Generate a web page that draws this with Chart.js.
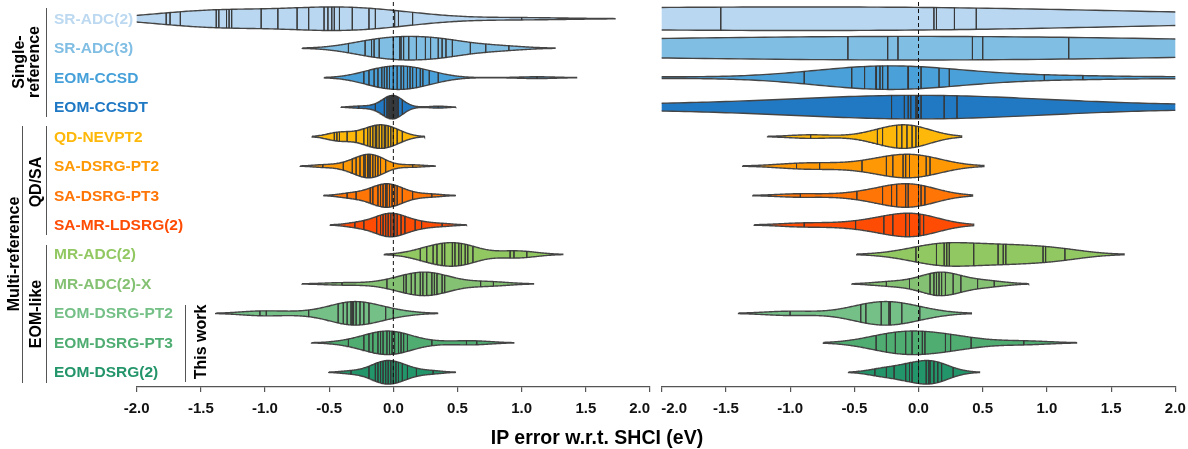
<!DOCTYPE html>
<html>
<head>
<meta charset="utf-8">
<script src="https://cdn.jsdelivr.net/npm/chart.js@4.4.1/dist/chart.umd.min.js"></script>
<style>
  body { margin: 0; width: 1188px; height: 449px; overflow: hidden; background: #fff; position: relative;
         font-family: "Liberation Sans", Arial, sans-serif; }
  .box { position: absolute; top: 0; height: 449px; }
  #leftBox { left: 0; width: 700px; }
  #rightBox { left: 600px; width: 620px; }
  .grp { position: absolute; font-weight: bold; font-size: 16px; color: #000; white-space: nowrap;
         text-align: center; line-height: 15px; transform: translate(-50%, -50%) rotate(-90deg); }
  .bar { position: absolute; width: 0; border-left: 1.5px solid #555; }
  .rowlab { position: absolute; left: 54px; transform: translateY(-50%); font-weight: bold;
            font-size: 15.5px; white-space: nowrap; line-height: 18px; }
  #xtitle { position: absolute; left: 597px; top: 437px; transform: translate(-50%, -50%);
            font-weight: bold; font-size: 19.5px; white-space: nowrap; }
</style>
</head>
<body>
<div class="box" id="leftBox"><canvas id="leftChart"></canvas></div>
<div class="box" id="rightBox"><canvas id="rightChart"></canvas></div>
<div id="labels"></div>

<div class="bar" style="left:46px;top:8px;height:109px"></div>
<div class="grp" style="left:26px;top:62px">Single-<br>reference</div>
<div class="bar" style="left:22px;top:126px;height:257px"></div>
<div class="grp" style="left:13px;top:254px">Multi-reference</div>
<div class="bar" style="left:46px;top:126px;height:109px"></div>
<div class="grp" style="left:35px;top:182px">QD/SA</div>
<div class="bar" style="left:46px;top:245px;height:138px"></div>
<div class="grp" style="left:35px;top:314px">EOM-like</div>
<div class="bar" style="left:185px;top:305px;height:77px"></div>
<div class="grp" style="left:200px;top:342px">This work</div>
<div id="xtitle">IP error w.r.t. SHCI (eV)</div>

<script>
var methods = ['SR-ADC(2)', 'SR-ADC(3)', 'EOM-CCSD', 'EOM-CCSDT', 'QD-NEVPT2', 'SA-DSRG-PT2', 'SA-DSRG-PT3',
               'SA-MR-LDSRG(2)', 'MR-ADC(2)', 'MR-ADC(2)-X', 'EOM-DSRG-PT2', 'EOM-DSRG-PT3', 'EOM-DSRG(2)'];

var tickValues = [-2, -1.5, -1, -0.5, 0, 0.5, 1, 1.5, 2];
var tickLabels = ['-2.0', '-1.5', '-1.0', '-0.5', '0.0', '0.5', '1.0', '1.5', '2.0'];

// IP errors (eV), left panel, one list per method
var leftErrors = [
  [-1.77, -1.74, -1.66, -1.38, -1.36, -1.30, -1.28, -1.26, -1.03, -0.90, -0.75, -0.66, -0.54, -0.51, -0.48, -0.46, -0.42, -0.32, -0.19, -0.14, 0.01, 0.04, 0.15, 1.00], // SR-ADC(2)
  [-0.35, -0.22, -0.17, -0.15, -0.11, 0.00, 0.05, 0.06, 0.08, 0.12, 0.18, 0.25, 0.29, 0.35, 0.38, 0.41, 0.46, 0.60, 0.72, 0.90], // SR-ADC(3)
  [-0.23, -0.19, -0.15, -0.12, -0.09, -0.07, -0.05, -0.03, 0.00, 0.03, 0.06, 0.08, 0.11, 0.13, 0.15, 0.18, 0.21, 0.23, 0.28, 0.35, 1.12], // EOM-CCSD
  [-0.27, -0.14, -0.07, -0.05, -0.04, -0.03, -0.02, -0.01, -0.01, 0.00, 0.00, 0.01, 0.02, 0.03, 0.04, 0.07, 0.35], // EOM-CCSDT
  [-0.46, -0.44, -0.42, -0.36, -0.29, -0.23, -0.20, -0.18, -0.16, -0.14, -0.13, -0.11, -0.09, -0.07, -0.06, -0.04, -0.02, 0.00, 0.03, 0.07], // QD-NEVPT2
  [-0.55, -0.39, -0.32, -0.29, -0.26, -0.23, -0.22, -0.20, -0.19, -0.18, -0.16, -0.14, -0.12, -0.10, -0.06, 0.15], // SA-DSRG-PT2
  [-0.36, -0.29, -0.18, -0.16, -0.12, -0.10, -0.08, -0.06, -0.05, -0.03, -0.01, 0.01, 0.03, 0.07, 0.15, 0.30], // SA-DSRG-PT3
  [-0.30, -0.23, -0.13, -0.10, -0.08, -0.06, -0.04, -0.02, 0.00, 0.01, 0.03, 0.06, 0.09, 0.17, 0.22, 0.38], // SA-MR-LDSRG(2)
  [0.21, 0.26, 0.31, 0.34, 0.38, 0.40, 0.46, 0.48, 0.51, 0.53, 0.56, 0.58, 0.62, 0.91, 0.94, 1.04], // MR-ADC(2)
  [-0.40, -0.05, 0.08, 0.10, 0.14, 0.17, 0.21, 0.23, 0.26, 0.30, 0.32, 0.34, 0.38, 0.40, 0.68, 0.78], // MR-ADC(2)-X
  [-1.04, -0.99, -0.66, -0.43, -0.39, -0.36, -0.33, -0.32, -0.31, -0.29, -0.26, -0.23, -0.19, -0.06, 0.00], // EOM-DSRG-PT2
  [-0.35, -0.23, -0.19, -0.16, -0.12, -0.10, -0.08, -0.05, -0.03, -0.01, 0.01, 0.04, 0.06, 0.08, 0.11, 0.30, 0.57, 0.65], // EOM-DSRG-PT3
  [-0.33, -0.19, -0.14, -0.12, -0.10, -0.08, -0.06, -0.04, -0.02, 0.00, 0.02, 0.04, 0.07, 0.11, 0.18, 0.31] // EOM-DSRG(2)
];

// IP errors (eV), right panel
var rightErrors = [
  [-6.5, -4.8, -3.6, -2.9, -2.4, -1.54, 0.12, 0.14, 0.28, 0.45, 3.4], // SR-ADC(2)
  [-8.0, -5.0, -3.5, -2.6, -0.55, -0.24, -0.16, 0.42, 0.50, 1.17, 2.8, 5.5], // SR-ADC(3)
  [-2.3, -0.89, -0.52, -0.42, -0.33, -0.33, -0.30, -0.28, -0.28, -0.24, -0.24, -0.08, -0.08, 0.02, 0.16, 0.24, 0.98, 1.28, 2.5], // EOM-CCSD
  [-3.0, -2.3, -0.21, -0.11, -0.08, -0.06, -0.02, -0.01, 0.02, 0.20, 0.30, 2.7, 3.8], // EOM-CCSDT
  [-0.84, -0.32, -0.28, -0.17, -0.13, -0.09, -0.05, -0.02, 0.00], // QD-NEVPT2
  [-0.95, -0.77, -0.44, -0.25, -0.20, -0.12, -0.10, -0.07, 0.00, 0.06, 0.09], // SA-DSRG-PT2
  [-0.92, -0.48, -0.28, -0.21, -0.17, -0.10, -0.08, 0.00, 0.02, 0.05], // SA-DSRG-PT3
  [-0.89, -0.49, -0.27, -0.20, -0.10, -0.07, 0.00, 0.01, 0.04], // SA-MR-LDSRG(2)
  [-0.02, 0.14, 0.20, 0.22, 0.24, 0.43, 0.62, 0.66, 0.68, 0.97, 0.99, 1.14], // MR-ADC(2)
  [-0.25, -0.07, 0.09, 0.12, 0.14, 0.16, 0.18, 0.21, 0.27, 0.33, 0.46, 0.59], // MR-ADC(2)-X
  [-1.00, -0.45, -0.41, -0.29, -0.23, -0.22, -0.13, 0.01], // EOM-DSRG-PT2
  [-0.33, -0.25, -0.18, -0.10, -0.05, 0.03, 0.05, 0.21, 0.25, 0.41, 0.82], // EOM-DSRG-PT3
  [-0.34, -0.25, -0.19, -0.10, -0.07, -0.05, 0.00, 0.06, 0.08, 0.09, 0.12, 0.15, 0.18, 0.27] // EOM-DSRG(2)
];

var fills = ['#b9d7f0', '#80bee4', '#4aa0d9', '#2179c4', '#feb80a', '#ff9805', '#ff7506', '#ff4c05',
             '#92c862', '#84c172', '#74c087', '#4fad72', '#23956a'];
var labelColors = ['#bcd9f1', '#80bee4', '#45a0da', '#1f78c4', '#feb80a', '#ff9805', '#ff7506', '#ff4c05',
                   '#92c862', '#84c172', '#74c087', '#4fad72', '#23956a'];

var font = '"Liberation Sans", Arial, sans-serif';
var halfWidth = 0.4;

// gaussian kde, scott bandwidth, cut = 2 (like seaborn's violinplot)
function kde(vals) {
  var n = vals.length, mean = 0, ss = 0;
  for (var i = 0; i < n; ++i) mean += vals[i];
  mean /= n;
  for (var i = 0; i < n; ++i) ss += (vals[i] - mean) * (vals[i] - mean);
  var bw = Math.pow(n, -0.2) * Math.sqrt(ss / (n - 1));
  var lo = Math.min.apply(null, vals) - 2 * bw;
  var hi = Math.max.apply(null, vals) + 2 * bw;
  var f = function (x) {
    var s = 0;
    for (var j = 0; j < n; ++j) { var z = (x - vals[j]) / bw; s += Math.exp(-0.5 * z * z); }
    return s;
  };
  var xs = [], ds = [], peak = 0;
  for (var i = 0; i < 240; ++i) {
    var x = lo + (hi - lo) * i / 239;
    var d = f(x);
    xs.push(x); ds.push(d);
    if (d > peak) peak = d;
  }
  return {xs: xs, ds: ds, peak: peak, f: f};
}

function violinSets(errors) {
  var sets = [];
  errors.forEach(function (vals, row) {
    var k = kde(vals);
    var outline = [];
    for (var i = 0; i < k.xs.length; ++i) outline.push({x: k.xs[i], y: row - halfWidth * k.ds[i] / k.peak});
    for (var i = k.xs.length - 1; i >= 0; --i) outline.push({x: k.xs[i], y: row + halfWidth * k.ds[i] / k.peak});
    outline.push({x: outline[0].x, y: outline[0].y});
    sets.push({
      data: outline, showLine: true, fill: 'shape', backgroundColor: fills[row],
      borderColor: '#454545', borderWidth: 1.4, pointRadius: 0, clip: 0, order: 2
    });
    var sticks = [];
    vals.forEach(function (v) {
      var h = halfWidth * k.f(v) / k.peak;
      sticks.push({x: v, y: row - h}, {x: v, y: row + h}, {x: v, y: null});
    });
    sets.push({
      data: sticks, showLine: true, fill: false, borderColor: 'rgba(55,55,55,0.85)',
      borderWidth: 1, pointRadius: 0, clip: 0, order: 1
    });
  });
  return sets;
}

var zeroLine = {
  id: 'zeroLine',
  afterDatasetsDraw: function (chart) {
    var ctx = chart.ctx, a = chart.chartArea;
    var x = chart.scales.x.getPixelForValue(0);
    ctx.save();
    ctx.setLineDash([4, 3]);
    ctx.strokeStyle = '#111';
    ctx.lineWidth = 1;
    ctx.beginPath();
    ctx.moveTo(x, a.top - 2);
    ctx.lineTo(x, a.bottom - 3);
    ctx.stroke();
    ctx.restore();
  }
};

function makeChart(id, errors, isLeft) {
  var nb = '\u00a0';
  return new Chart(document.getElementById(id), {
    type: 'scatter',
    data: {datasets: violinSets(errors)},
    options: {
      responsive: true,
      maintainAspectRatio: false,
      animation: false,
      events: [],
      layout: {padding: isLeft ? {left: 136.7, right: 50, top: 4, bottom: 0} : {left: 61.7, right: 44.7, top: 4, bottom: 0}},
      plugins: {legend: {display: false}, tooltip: {enabled: false}},
      scales: {
        x: {
          type: 'linear', min: -2, max: 2,
          afterBuildTicks: function (s) { s.ticks = tickValues.map(function (v) { return {value: v}; }); },
          ticks: {
            color: '#111', padding: 8, maxRotation: 0, autoSkip: false,
            font: {family: font, size: 15, weight: 'bold'},
            callback: function (v, i) {
              // keep the inner edge labels of the two panels apart
              if (isLeft && i === tickLabels.length - 1) return tickLabels[i] + nb + nb + nb + nb + nb;
              if (!isLeft && i === 0) return nb + nb + nb + nb + nb + nb + tickLabels[i];
              return tickLabels[i];
            }
          },
          grid: {drawOnChartArea: false, drawTicks: true, tickLength: 5, color: '#555', lineWidth: 1.2},
          border: {display: true, color: '#555', width: 1.2},
          afterFit: function (s) { s.height = 62; }
        },
        y: {type: 'linear', min: -0.5, max: 12.5, reverse: true, display: false}
      }
    },
    plugins: [zeroLine]
  });
}

var leftChart = makeChart('leftChart', leftErrors, true);
makeChart('rightChart', rightErrors, false);

// method names beside the rows of the left panel
var box = document.getElementById('labels');
methods.forEach(function (m, i) {
  var d = document.createElement('div');
  d.className = 'rowlab';
  d.style.top = leftChart.scales.y.getPixelForValue(i) + 'px';
  d.style.color = labelColors[i];
  d.textContent = m;
  box.appendChild(d);
});
</script>
</body>
</html>
